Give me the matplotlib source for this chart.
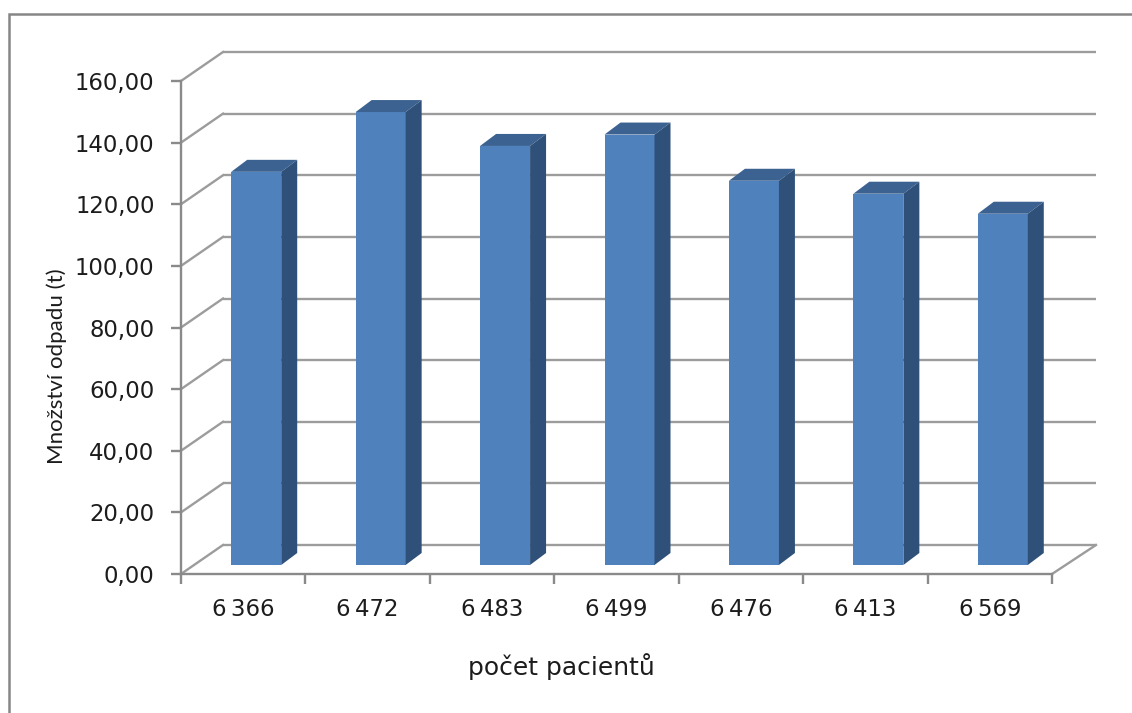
import matplotlib
matplotlib.use("Agg")
import matplotlib.pyplot as plt
from matplotlib.lines import Line2D
from matplotlib.patches import Polygon

# Waste per year against the number of patients
patients = ["6\u2009366", "6\u2009472", "6\u2009483", "6\u2009499", "6\u2009476", "6\u2009413", "6\u2009569"]
waste = [127.6, 147.0, 136.0, 139.7, 124.7, 120.5, 114.0]
y_ticks = [0, 20, 40, 60, 80, 100, 120, 140, 160]
y_labels = ["0,00", "20,00", "40,00", "60,00", "80,00", "100,00", "120,00", "140,00", "160,00"]

W, H = 1132, 713
LEFT, RIGHT, TOP, BOTTOM = 181.0, 1052.0, 81.0, 574.0
GRID = "#9c9c9c"
AXIS = "#8a8a8a"
TEXT = "#1c1c1c"

fig = plt.figure(figsize=(W / 100, H / 100), dpi=100, facecolor="white")
ax = fig.add_axes([LEFT / W, 1 - BOTTOM / H, (RIGHT - LEFT) / W, (BOTTOM - TOP) / H])
ax.set_xlim(0, len(waste))
ax.set_ylim(0, 160)
ax.patch.set_visible(False)

px_x = len(waste) / (RIGHT - LEFT)
px_y = 160 / (BOTTOM - TOP)

# Depth of the chart box and of each column, in data units
box_dx, box_dx_right, box_dy = 42 * px_x, 44 * px_x, 29 * px_y
bar_dx, bar_dy = 16 * px_x, 12 * px_y
bar_shift, bar_floor = 13 * px_x, 9 * px_y
bar_width = 50 * px_x

# Back wall, side wall and floor
n = len(waste)
for v in y_ticks:
    ax.plot([box_dx, n + box_dx_right], [v + box_dy, v + box_dy], color=GRID, lw=1.7, clip_on=False, zorder=1, solid_capstyle="butt")
    ax.plot([0, box_dx], [v, v + box_dy], color=GRID, lw=1.7, clip_on=False, zorder=1)
ax.plot([n, n + box_dx_right], [0, box_dy], color=GRID, lw=1.7, clip_on=False, zorder=1)

# Columns: front face from the bar call, top and side as parallelograms
centers = [i + 0.5 + bar_shift for i in range(n)]
ax.bar(centers, waste, width=bar_width, bottom=bar_floor, color="#4f81bd", linewidth=0, zorder=3)
for c, v in zip(centers, waste):
    l, r = c - bar_width / 2, c + bar_width / 2
    t = bar_floor + v
    ax.add_patch(Polygon([(l, t), (r, t), (r + bar_dx, t + bar_dy), (l + bar_dx, t + bar_dy)],
                         closed=True, facecolor="#3c6291", linewidth=0, zorder=3, clip_on=False))
    ax.add_patch(Polygon([(r, bar_floor), (r + bar_dx, bar_floor + bar_dy), (r + bar_dx, t + bar_dy), (r, t)],
                         closed=True, facecolor="#2f5179", linewidth=0, zorder=3, clip_on=False))

# Axes and tick labels
for side in ("top", "right"):
    ax.spines[side].set_visible(False)
for side in ("left", "bottom"):
    ax.spines[side].set_color(AXIS)
    ax.spines[side].set_linewidth(1.7)
    ax.spines[side].set_zorder(2)

ax.set_yticks(y_ticks)
ax.set_yticklabels(y_labels)
ax.set_xticks(range(n + 1))
ax.set_xticklabels([])
ax.set_xticks([i + 0.5 for i in range(n)], minor=True)
ax.set_xticklabels(patients, minor=True)
ax.tick_params(axis="both", which="major", color=AXIS, width=1.7, length=7)
ax.tick_params(axis="x", which="minor", length=0, pad=17)
ax.tick_params(axis="y", which="major", labelsize=16.4, labelcolor=TEXT, pad=12)
ax.tick_params(axis="x", which="minor", labelsize=16.4, labelcolor=TEXT)

fig.text(57 / W, 1 - 366 / H, "Množství odpadu (t)", rotation=90, ha="center", va="center",
         fontsize=16, color=TEXT, family="Lato")
fig.text(561 / W, 1 - 667 / H, "počet pacientů", ha="center", va="center", fontsize=18, color=TEXT)

# Chart frame running off the top right and bottom left
fig.add_artist(Line2D([9 / W, 9 / W, 1], [0, 1 - 14 / H, 1 - 14 / H], transform=fig.transFigure,
                      color="#868686", lw=1.8, solid_joinstyle="miter"))

fig.savefig("out.png", dpi=100)
